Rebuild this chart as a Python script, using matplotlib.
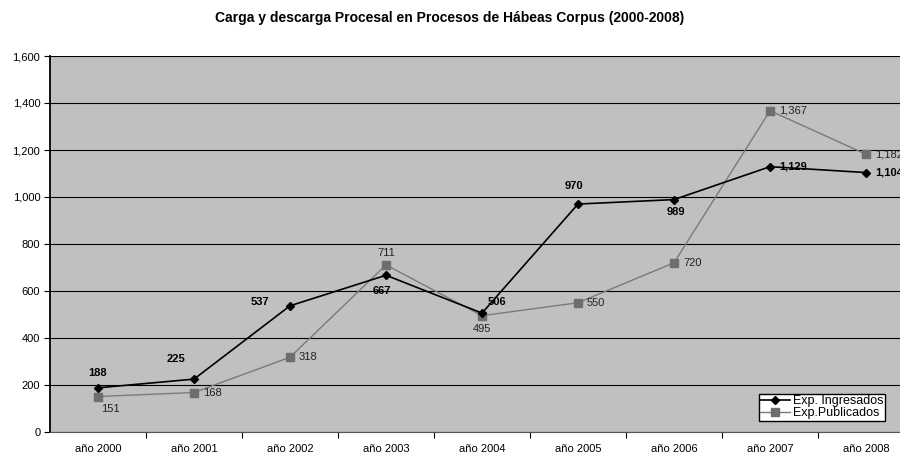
import matplotlib.pyplot as plt
from matplotlib.ticker import FuncFormatter

plt.rcParams['font.family'] = ['Liberation Sans', 'DejaVu Sans']

years = ['año 2000', 'año 2001', 'año 2002', 'año 2003', 'año 2004',
         'año 2005', 'año 2006', 'año 2007', 'año 2008']
ingresados = [188, 225, 537, 667, 506, 970, 989, 1129, 1104]
publicados = [151, 168, 318, 711, 495, 550, 720, 1367, 1182]

# label offsets in pixels (dx, dy, ha)
off_ing = [(0, 15, 'center'), (-18, 20, 'center'), (-30, 4, 'center'),
           (-4, -16, 'center'), (6, 11, 'left'), (-4, 18, 'center'),
           (2, -12, 'center'), (9, 0, 'left'), (9, 0, 'left')]
off_pub = [(12, -12, 'center'), (9, 0, 'left'), (9, 0, 'left'),
           (0, 12, 'center'), (0, -13, 'center'), (9, 0, 'left'),
           (9, 0, 'left'), (9, 0, 'left'), (9, 0, 'left')]

fig = plt.figure(figsize=(9, 4.54), dpi=100)
ax = fig.add_axes([50/900, 22/454, 864/900, 376/454])
ax.set_facecolor('#c0c0c0')

x = range(len(years))
ax.plot(x, ingresados, color='black', lw=1.2, marker='D', ms=4,
        label='Exp. Ingresados', zorder=3)
ax.plot(x, publicados, color='#7a7a7a', lw=1.0, marker='s', ms=5.5,
        mfc='#6e6e6e', mec='#6e6e6e', label='Exp.Publicados', zorder=2)

for i, v in enumerate(ingresados):
    dx, dy, ha = off_ing[i]
    ax.annotate(f'{v:,}', (i, v), xytext=(dx, dy), textcoords='offset pixels',
                ha=ha, va='center', fontsize=8, fontweight='bold', zorder=4)
for i, v in enumerate(publicados):
    dx, dy, ha = off_pub[i]
    ax.annotate(f'{v:,}', (i, v), xytext=(dx, dy), textcoords='offset pixels',
                ha=ha, va='center', fontsize=8, color='#222222', zorder=4)

ax.set_xlim(-0.5, len(years) - 0.5)
ax.set_ylim(0, 1600)
ax.set_yticks(range(0, 1601, 200))
ax.yaxis.set_major_formatter(FuncFormatter(lambda v, p: f'{int(v):,}'))
ax.grid(axis='y', color='black', lw=0.8)
ax.set_axisbelow(True)

ax.set_xticks([i + 0.5 for i in range(len(years) - 1)])
ax.set_xticklabels([])
ax.set_xticks(list(x), minor=True)
ax.set_xticklabels(years, minor=True)
ax.tick_params(axis='x', which='minor', length=0, pad=9, labelsize=8)
ax.tick_params(axis='x', which='major', length=4, color='black')
ax.tick_params(axis='y', length=4, labelsize=8, pad=3)

for s in ['top', 'right']:
    ax.spines[s].set_visible(False)
ax.spines['left'].set_linewidth(1.3)
ax.spines['bottom'].set_linewidth(0.8)
ax.spines['bottom'].set_color('#555555')

fig.text(0.5, 1 - 18/454, 'Carga y descarga Procesal en Procesos de Hábeas Corpus (2000-2008)',
         ha='center', va='center', fontsize=10, fontweight='bold')

fig.legend(loc='upper left', bbox_to_anchor=(759/900, 1 - 394/454),
           fontsize=9, frameon=True, fancybox=False, edgecolor='black',
           framealpha=1, handlelength=2.4, handletextpad=0.2,
           borderpad=0.1, labelspacing=0.0, borderaxespad=0)

fig.savefig('out.png', dpi=100)
